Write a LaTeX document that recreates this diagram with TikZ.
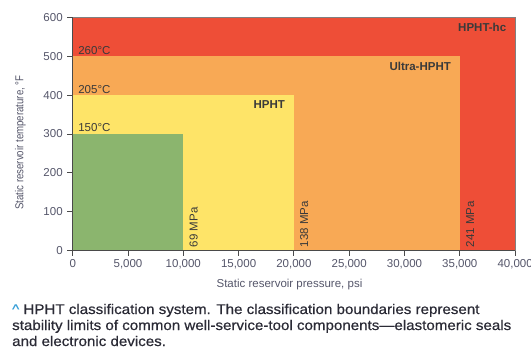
\documentclass[tikz,border=0pt]{standalone}
\usepackage{fontspec}
\setmainfont{Liberation Sans}
\newfontfamily\plotfont{Liberation Sans}
\newfontfamily\narrowfont[FakeStretch=0.84]{Liberation Sans}
\newfontfamily\capfont[FakeStretch=1.08,FakeBold=0.6]{Liberation Sans}
\usepackage{xcolor}
\usetikzlibrary{positioning}

\definecolor{hchc}{HTML}{EE4E37}
\definecolor{ultra}{HTML}{F8A955}
\definecolor{hpht}{HTML}{FEE468}
\definecolor{base}{HTML}{8BB56E}
\definecolor{axisgray}{HTML}{4A4A4A}
\definecolor{ticktext}{HTML}{55566A}
\definecolor{zonetext}{HTML}{3A3A3A}
\definecolor{captext}{HTML}{2B2B36}
\definecolor{caret}{HTML}{3AA0D8}

\tikzset{
  ticklab/.style={font=\plotfont\fontsize{11.5}{12}\selectfont,text=ticktext,inner sep=1pt},
  zonelab/.style={font=\plotfont\fontsize{11.5}{12}\selectfont,text=zonetext,inner sep=1pt},
  classlab/.style={font=\plotfont\bfseries\fontsize{11.5}{12}\selectfont,text=zonetext,inner sep=1pt},
  mpalab/.style={zonelab,rotate=90,anchor=north west},
  caplab/.style={font=\capfont\fontsize{14}{16}\selectfont,text=captext,inner sep=0pt,anchor=base west},
}

\begin{document}
\begin{tikzpicture}[x=1pt,y=-1pt]
  \useasboundingbox (0,0) rectangle (531,349);
  \begin{scope}[shift={(72.7,250.7)},x=11.06pt,y=0.3890pt]
    % zones, largest first
    \fill[hchc] (0,0) rectangle (40,600);
    \fill[ultra] (0,0) rectangle (35,500);
    \fill[hpht] (0,0) rectangle (20,400);
    \fill[base] (0,0) rectangle (10,300);
    \draw[gray,line width=0.8pt] (0,600) -- (40,600) -- (40,0);
    %
    \node[zonelab,anchor=south west] (t260) at (0.4,502) {260°C};
    \node[zonelab,anchor=south west] (t205) at (0.4,402) {205°C};
    \node[zonelab,anchor=south west] (t150) at (0.4,302) {150°C};
    \node[classlab,anchor=north east] (hc) at (39.3,589) {HPHT-hc};
    \node[classlab,anchor=north east] (ultra) at (34.3,489) {Ultra-HPHT};
    \node[classlab,anchor=north east] (hp) at (19.3,389) {HPHT};
    %
    \node[mpalab] (p69) at (10.45,6) {69 MPa};
    \node[mpalab] (p138) at (20.45,6) {138 MPa};
    \node[mpalab] (p241) at (35.45,6) {241 MPa};
    % axes
    \draw[axisgray,line width=0.9pt] (0,600) -- (0,0) -- (40,0);
    \foreach \p/\l in {0/0,5/{5,000},10/{10,000},15/{15,000},20/{20,000},25/{25,000},30/{30,000},35/{35,000},40/{40,000}}{
      \draw[axisgray,line width=0.9pt] (\p,0) -- (\p,-14);
      \node[ticklab,anchor=north] (xt\p) at (\p,-20) {\l};
    }
    \foreach \t in {0,100,...,600}{
      \draw[axisgray,line width=0.9pt] (0,\t) -- (-0.55,\t);
      \node[ticklab,anchor=east] (yt\t) at (-0.8,\t) {\t};
    }
    \node[ticklab] (xtitle) at (19.6,-88) {Static reservoir pressure, psi};
    \node[ticklab,font=\narrowfont\fontsize{11.5}{12}\selectfont,rotate=90] (ytitle) at (-4.72,278) {Static reservoir temperature, °F};
  \end{scope}
  % caption, one node per line
  \node[caplab] (cap1) at (12,314) {\textcolor{caret}{\textasciicircum}\ HPHT classification system. The classification boundaries represent};
  \node[caplab] (cap2) at (12,330) {stability limits of common well-service-tool components—elastomeric seals};
  \node[caplab] (cap3) at (12,346) {and electronic devices.};
\end{tikzpicture}
\end{document}
